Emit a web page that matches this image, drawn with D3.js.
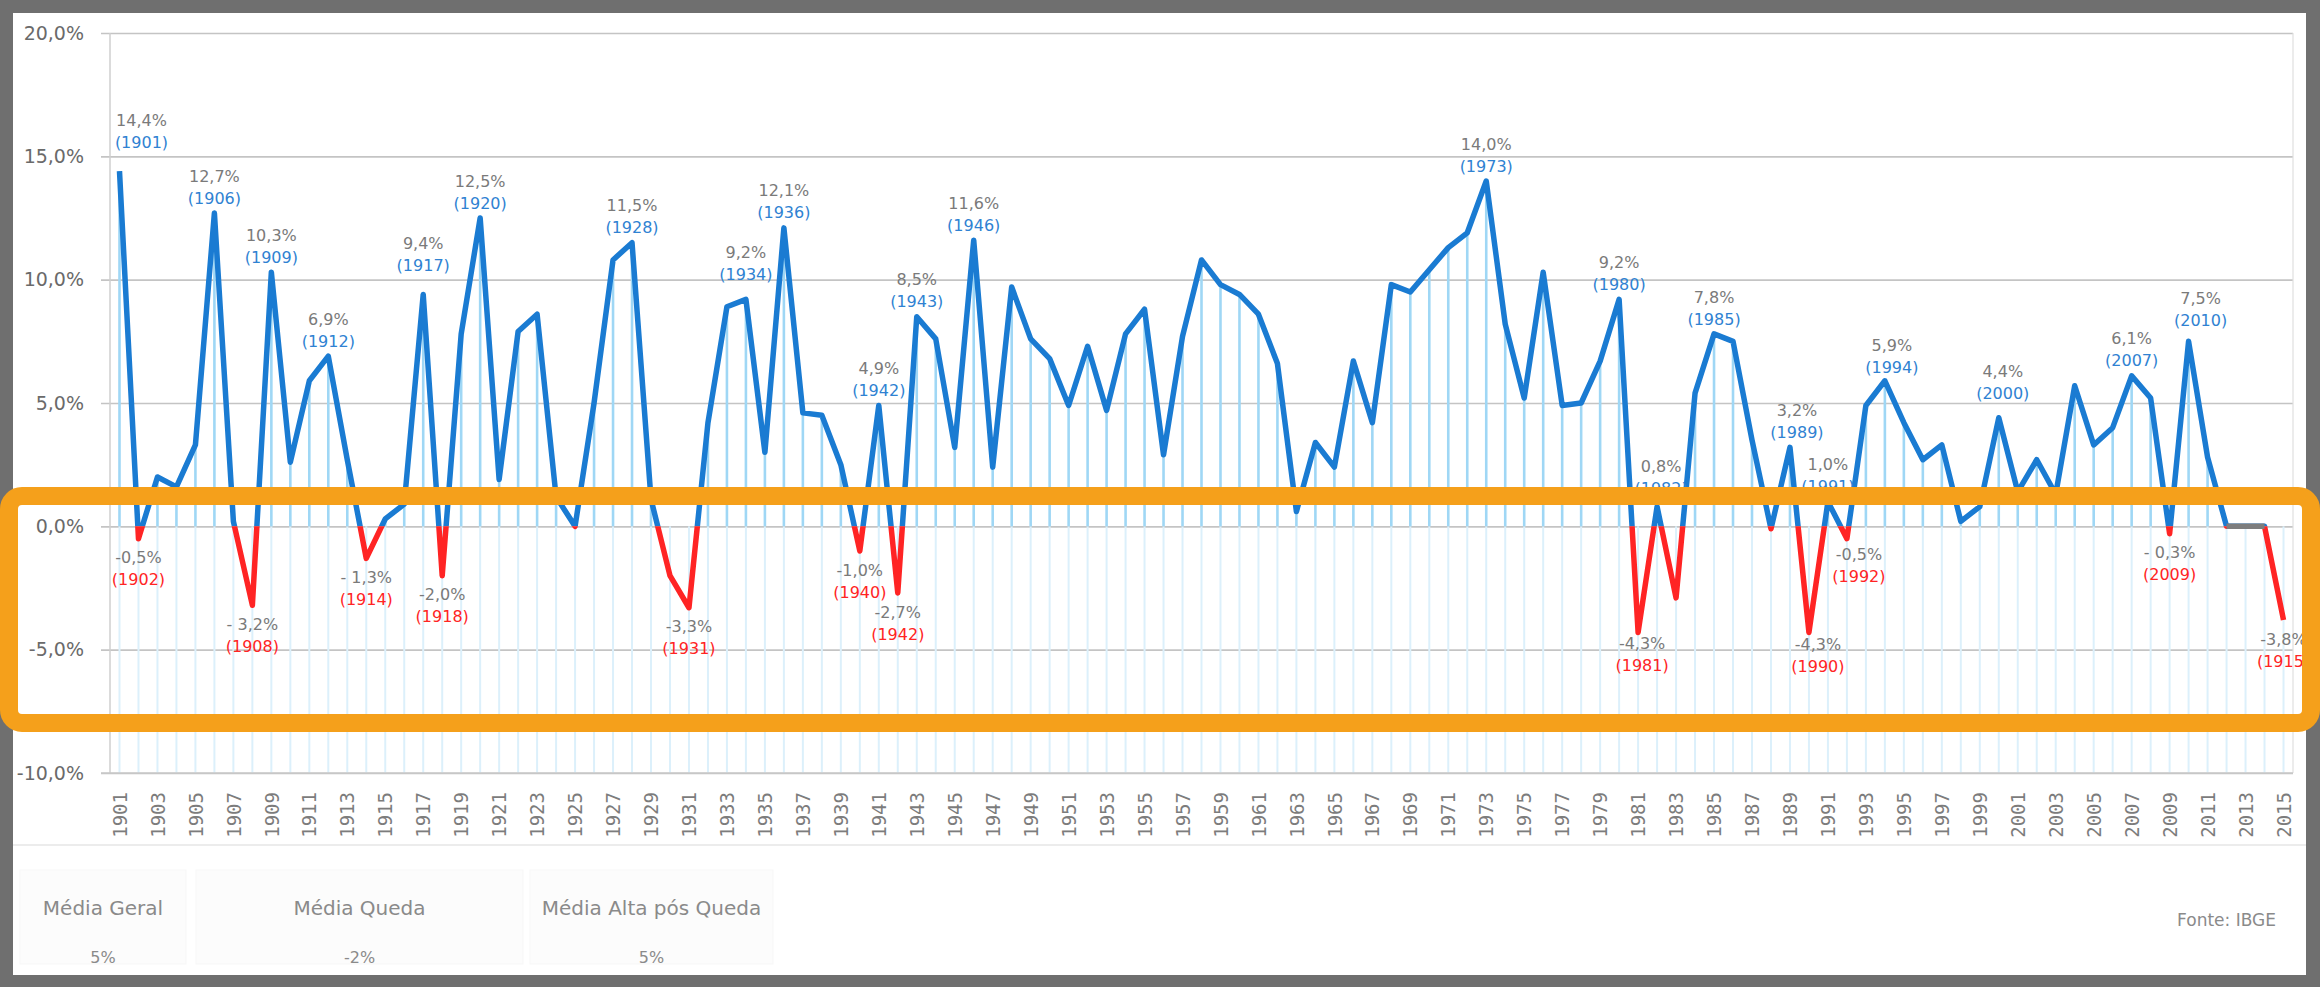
<!DOCTYPE html>
<html>
<head>
<meta charset="utf-8">
<script src="https://cdn.jsdelivr.net/npm/d3@7"></script>
<style>
    html, body { margin: 0; padding: 0; background: #6f6f6f; }
    svg { display: block; }
    text { font-family: "DejaVu Sans", sans-serif; }
</style>
</head>
<body>
<svg id="grafico" width="2320" height="987"></svg>
<script>
// Anos (categorias)
const anos = d3.range(1901, 2016);

// Variação anual do PIB (%)
const variacao = [
    14.4, -0.5, 2.0, 1.6, 3.3, 12.7, 0.2, -3.2, 10.3, 2.6,    // 1901-1910
    5.9, 6.9, 2.7, -1.3, 0.3, 0.9, 9.4, -2.0, 7.8, 12.5,      // 1911-1920
    1.9, 7.9, 8.6, 1.2, 0.0, 5.0, 10.8, 11.5, 1.1, -2.0,      // 1921-1930
    -3.3, 4.2, 8.9, 9.2, 3.0, 12.1, 4.6, 4.5, 2.5, -1.0,      // 1931-1940
    4.9, -2.7, 8.5, 7.6, 3.2, 11.6, 2.4, 9.7, 7.6, 6.8,       // 1941-1950
    4.9, 7.3, 4.7, 7.8, 8.8, 2.9, 7.7, 10.8, 9.8, 9.4,        // 1951-1960
    8.6, 6.6, 0.6, 3.4, 2.4, 6.7, 4.2, 9.8, 9.5, 10.4,        // 1961-1970
    11.3, 11.9, 14.0, 8.2, 5.2, 10.3, 4.9, 5.0, 6.7, 9.2,     // 1971-1980
    -4.3, 0.8, -2.9, 5.4, 7.8, 7.5, 3.5, -0.1, 3.2, -4.3,     // 1981-1990
    1.0, -0.5, 4.9, 5.9, 4.2, 2.7, 3.3, 0.2, 0.8, 4.4,        // 1991-2000
    1.4, 2.7, 1.3, 5.7, 3.3, 4.0, 6.1, 5.2, -0.3, 7.5,        // 2001-2010
    2.8, 0, 0, 0, -3.8                                        // 2011-2015
];

// anos sem dado (linha cinza no zero)
const anosSemDado = [2012, 2013, 2014];

const yTicks = [-10, -5, 0, 5, 10, 15, 20];

// rótulos: [ano do ponto, valor, ano escrito]
const rotulosAlta = [
    [1901, "14,4%", "(1901)"], [1906, "12,7%", "(1906)"], [1909, "10,3%", "(1909)"],
    [1912, "6,9%", "(1912)"], [1917, "9,4%", "(1917)"], [1920, "12,5%", "(1920)"],
    [1928, "11,5%", "(1928)"], [1934, "9,2%", "(1934)"], [1936, "12,1%", "(1936)"],
    [1941, "4,9%", "(1942)"], [1943, "8,5%", "(1943)"], [1946, "11,6%", "(1946)"],
    [1973, "14,0%", "(1973)"], [1980, "9,2%", "(1980)"], [1982, "0,8%", "(1982)"],
    [1985, "7,8%", "(1985)"], [1989, "3,2%", "(1989)"], [1991, "1,0%", "(1991)"],
    [1994, "5,9%", "(1994)"], [2000, "4,4%", "(2000)"], [2007, "6,1%", "(2007)"],
    [2010, "7,5%", "(2010)"]
];
const rotulosQueda = [
    [1902, "-0,5%", "(1902)"], [1908, "- 3,2%", "(1908)"], [1914, "- 1,3%", "(1914)"],
    [1918, "-2,0%", "(1918)"], [1931, "-3,3%", "(1931)"], [1940, "-1,0%", "(1940)"],
    [1942, "-2,7%", "(1942)"], [1981, "-4,3%", "(1981)"], [1990, "-4,3%", "(1990)"],
    [1992, "-0,5%", "(1992)"], [2009, "- 0,3%", "(2009)"], [2015, "-3,8%", "(1915)"]
];

const mediasNomes = ["Média Geral", "Média Queda", "Média Alta pós Queda"];
const mediasValores = ["5%", "-2%", "5%"];
const fonteTexto = "Fonte: IBGE";

// ---------------------------------------------------------------
const svg = d3.select("#grafico");

const azul = "#1a7bd2";
const vermelho = "#ff2424";
const cinzaTexto = "#7a7a7a";

const plotEsq = 110, plotDir = 2293;
const x = d3.scalePoint()
    .domain(anos)
    .range([plotEsq, plotDir])
    .padding(0.5);
const y = d3.scaleLinear()
    .domain([-10, 20])
    .range([773, 33]);

const dados = anos.map((a, i) => ({ ano: a, v: variacao[i] }));

// painel branco
svg.append("rect")
    .attr("x", 13).attr("y", 13)
    .attr("width", 2306 - 13).attr("height", 975 - 13)
    .attr("fill", "#ffffff");

// linhas de grade + rótulos do eixo y
const fmtPct = d => (d < 0 ? "-" : "") + Math.abs(d).toFixed(1).replace(".", ",") + "%";
const eixoY = svg.append("g")
    .attr("transform", "translate(101,0)")
    .call(d3.axisLeft(y).tickValues(yTicks).tickSize(-(plotDir - 101)).tickPadding(17).tickFormat(fmtPct));
eixoY.select(".domain").remove();
eixoY.selectAll(".tick line").attr("stroke", "#c4c4c4").attr("stroke-width", 1.6);
eixoY.selectAll(".tick text")
    .attr("fill", "#6a6a6a")
    .style("font-size", "19px")
    .style("font-family", "DejaVu Sans");

// bordas da área do gráfico
svg.append("line")
    .attr("x1", plotEsq).attr("x2", plotEsq)
    .attr("y1", y(20)).attr("y2", y(-10))
    .attr("stroke", "#cfcfcf").attr("stroke-width", 1.5);
svg.append("line")
    .attr("x1", plotDir).attr("x2", plotDir)
    .attr("y1", y(20)).attr("y2", y(-10))
    .attr("stroke", "#e0e0e0").attr("stroke-width", 1.2);

// linhas verticais (abaixo do zero, claras)
svg.append("g").selectAll("line")
    .data(dados)
    .enter()
    .append("line")
    .attr("x1", d => x(d.ano)).attr("x2", d => x(d.ano))
    .attr("y1", y(0)).attr("y2", y(-10))
    .attr("stroke", "#dcf0fb").attr("stroke-width", 2);

// linhas de queda (do ponto até o zero)
svg.append("g").selectAll("line")
    .data(dados.filter(d => d.v > 0))
    .enter()
    .append("line")
    .attr("x1", d => x(d.ano)).attr("x2", d => x(d.ano))
    .attr("y1", d => y(d.v)).attr("y2", y(0))
    .attr("stroke", "#9fd7f5").attr("stroke-width", 2.6);

// linha principal: azul acima do zero, vermelha abaixo
const defs = svg.append("defs");
defs.append("clipPath").attr("id", "clip-acima")
    .append("rect").attr("x", 0).attr("y", 0).attr("width", 2320).attr("height", y(0));
defs.append("clipPath").attr("id", "clip-abaixo")
    .append("rect").attr("x", 0).attr("y", y(0)).attr("width", 2320).attr("height", 987 - y(0));

const linha = d3.line()
    .x(d => x(d.ano))
    .y(d => y(d.v));

svg.append("path")
    .datum(dados)
    .attr("d", linha)
    .attr("clip-path", "url(#clip-acima)")
    .attr("fill", "none")
    .attr("stroke", azul)
    .attr("stroke-width", 5.5)
    .attr("stroke-linejoin", "round");

svg.append("path")
    .datum(dados)
    .attr("d", linha)
    .attr("clip-path", "url(#clip-abaixo)")
    .attr("fill", "none")
    .attr("stroke", vermelho)
    .attr("stroke-width", 5.5)
    .attr("stroke-linejoin", "round");

svg.append("path")
    .datum(dados.filter(d => anosSemDado.includes(d.ano)))
    .attr("d", linha)
    .attr("fill", "none")
    .attr("stroke", "#7d7d7d")
    .attr("stroke-width", 5.5);

// eixo x (anos alternados, rotacionados)
const eixoX = svg.append("g")
    .attr("transform", "translate(0,792)")
    .call(d3.axisBottom(x).tickValues(anos.filter((a, i) => i % 2 === 0)).tickSize(0));
eixoX.select(".domain").remove();
eixoX.selectAll(".tick text")
    .attr("x", 0).attr("y", 0).attr("dy", "0.35em")
    .attr("transform", "rotate(-90)")
    .style("text-anchor", "end")
    .style("font-family", "DejaVu Sans Mono")
    .style("font-size", "19px")
    .attr("fill", "#7c7c7c");

svg.append("line")
    .attr("x1", 101).attr("x2", plotDir)
    .attr("y1", y(-10)).attr("y2", y(-10))
    .attr("stroke", "#c8c8c8").attr("stroke-width", 1.6);

// rótulos dos picos e quedas
const ajusteRotulos = {
    1901: [22, -14], 1917: [0, -14], 1934: [0, -10], 2000: [4, -9], 2010: [12, -6],
    1992: [12, -3], 1990: [9, -7], 1981: [4, -8], 1982: [4, -3], 1994: [7, 2], 1989: [7, 0]
};
const valorDe = a => variacao[anos.indexOf(a)];
const ajuste = a => ajusteRotulos[a] || [0, 0];

const gRotulos = svg.append("g").style("font-size", "16px");
rotulosAlta.forEach(r => {
    const cx = x(r[0]) + ajuste(r[0])[0];
    const cy = y(valorDe(r[0])) + ajuste(r[0])[1];
    gRotulos.append("text")
        .attr("x", cx).attr("y", cy - 37).attr("dy", "0.35em")
        .attr("text-anchor", "middle").attr("fill", cinzaTexto)
        .text(r[1]);
    gRotulos.append("text")
        .attr("x", cx).attr("y", cy - 15).attr("dy", "0.35em")
        .attr("text-anchor", "middle").attr("fill", "#2f82d2")
        .text(r[2]);
});
rotulosQueda.forEach(r => {
    const cx = x(r[0]) + ajuste(r[0])[0];
    const cy = y(valorDe(r[0])) + ajuste(r[0])[1];
    gRotulos.append("text")
        .attr("x", cx).attr("y", cy + 19).attr("dy", "0.35em")
        .attr("text-anchor", "middle").attr("fill", cinzaTexto)
        .text(r[1]);
    gRotulos.append("text")
        .attr("x", cx).attr("y", cy + 41).attr("dy", "0.35em")
        .attr("text-anchor", "middle").attr("fill", vermelho)
        .text(r[2]);
});

// rodapé
svg.append("line")
    .attr("x1", 13).attr("x2", 2306)
    .attr("y1", 845).attr("y2", 845)
    .attr("stroke", "#e6e6e6").attr("stroke-width", 1.5);

const caixas = [[20, 186], [196, 523], [530, 773]];
const gRodape = svg.append("g");
caixas.forEach((c, i) => {
    gRodape.append("rect")
        .attr("x", c[0]).attr("y", 870)
        .attr("width", c[1] - c[0]).attr("height", 94)
        .attr("fill", "#fcfcfc").attr("stroke", "#f7f7f7");
    gRodape.append("text")
        .attr("x", (c[0] + c[1]) / 2).attr("y", 908).attr("dy", "0.35em")
        .attr("text-anchor", "middle")
        .attr("fill", "#8a8a8a").style("font-size", "20px")
        .text(mediasNomes[i]);
    gRodape.append("text")
        .attr("x", (c[0] + c[1]) / 2).attr("y", 957).attr("dy", "0.35em")
        .attr("text-anchor", "middle")
        .attr("fill", "#8a8a8a").style("font-size", "16px")
        .text(mediasValores[i]);
});
gRodape.append("text")
    .attr("x", 2276).attr("y", 920).attr("dy", "0.35em")
    .attr("text-anchor", "end")
    .attr("fill", "#8a8a8a").style("font-size", "17px")
    .text(fonteTexto);

// destaque laranja
svg.append("rect")
    .attr("x", 9).attr("y", 496)
    .attr("width", 2302).attr("height", 227)
    .attr("rx", 13)
    .attr("fill", "none")
    .attr("stroke", "#f5a01b")
    .attr("stroke-width", 18);
</script>
</body>
</html>
